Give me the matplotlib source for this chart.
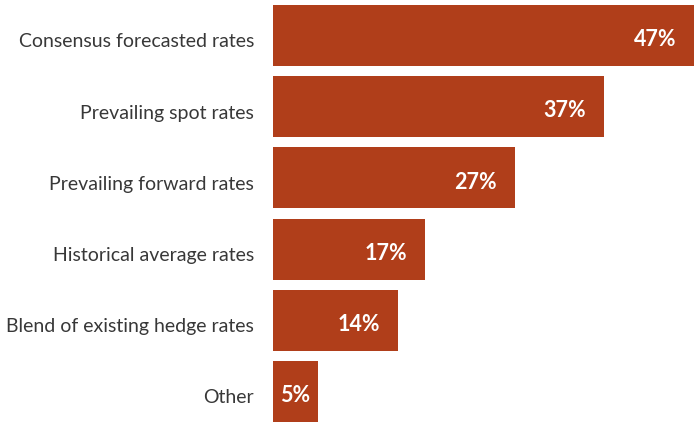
import matplotlib
matplotlib.use("Agg")
import matplotlib.pyplot as plt
from matplotlib.transforms import offset_copy

categories = [
    "Consensus forecasted rates",
    "Prevailing spot rates",
    "Prevailing forward rates",
    "Historical average rates",
    "Blend of existing hedge rates",
    "Other",
]
values = [47, 37, 27, 17, 14, 5]
value_labels = ["47%", "37%", "27%", "17%", "14%", "5%"]

bar_color = "#B03E1A"
text_color = "#383838"
font = "Lato"

fig = plt.figure(figsize=(6.94, 4.24), dpi=100)
ax = fig.add_axes([273 / 694, 2 / 424, 421 / 694, 417 / 424])

pos = list(range(len(categories)))
bh = 0.855
ax.barh(pos, values, height=bh, color=bar_color)
ax.set_xlim(0, 47)
ax.set_ylim(len(categories) - 1 + bh / 2, -bh / 2)

ax.set_yticks(pos)
ax.set_yticklabels(categories, fontsize=14, color=text_color, family=font)
ax.tick_params(axis="y", length=0, pad=13.5)
for t in ax.get_yticklabels():
    t.set_transform(offset_copy(t.get_transform(), fig=fig, x=0, y=-3.5, units="points"))
ax.set_xticks([])
for s in ax.spines.values():
    s.set_visible(False)

fig.canvas.draw()
renderer = fig.canvas.get_renderer()
px_per_unit = ax.bbox.width / 47
for p, v, lab in zip(pos, values, value_labels):
    t = ax.annotate(lab, xy=(v, p), xytext=(-13, -3), textcoords="offset points",
                    ha="right", va="center", color="white", fontsize=15.5,
                    fontweight="bold", family=font)
    w = t.get_window_extent(renderer).width
    if v * px_per_unit < w + 2 * 13 * 100 / 72:
        # short bar: centre the label inside it
        t.xy = (v / 2, p)
        t.set_position((0, -3))
        t.set_ha("center")

fig.savefig("out.png", dpi=100)
